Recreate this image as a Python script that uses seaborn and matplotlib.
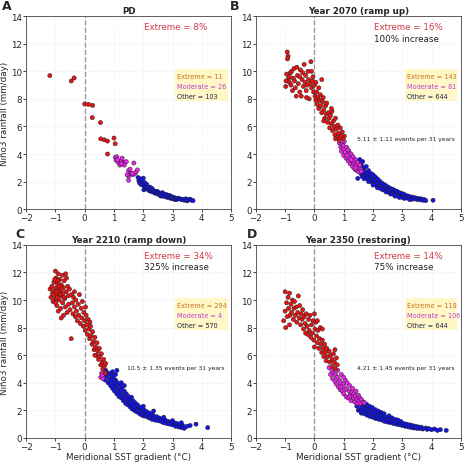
import pandas as pd
import matplotlib
matplotlib.use('Agg')
import matplotlib.pyplot as plt
from matplotlib.patches import Rectangle
import seaborn as sns

sns.set_style('ticks')
plt.rcParams['font.family'] = ['DejaVu Sans']

# ---- data: (SST gradient, Nino3 rainfall) ----
A_EXT = [(-1.19, 9.69), (-0.46, 9.30), (-0.36, 9.52), (0.0, 7.63), (0.13, 7.60), (0.27, 7.53),
         (0.26, 6.64), (0.54, 6.28), (0.55, 5.10), (0.67, 5.03), (0.78, 4.94), (0.78, 4.00),
         (1.00, 5.16), (1.04, 4.75)]
A_MOD = [(1.05, 3.75), (1.07, 3.55), (1.10, 3.80), (1.15, 3.40), (1.20, 3.20), (1.25, 3.50),
         (1.28, 3.70), (1.32, 3.30), (1.38, 3.40), (1.42, 3.45), (1.50, 2.80), (1.50, 2.40),
         (1.50, 2.10), (1.55, 2.60), (1.60, 2.55), (1.65, 2.50), (1.68, 3.35), (1.72, 2.60),
         (1.75, 2.70), (1.55, 2.90), (1.35, 3.20), (1.12, 3.60), (1.25, 3.30), (1.62, 2.60),
         (1.45, 2.50), (1.80, 2.85)]
A_OTH = [(1.82, 2.30), (1.85, 2.05), (1.88, 1.90), (1.90, 2.20), (1.92, 1.80), (1.95, 2.00),
         (1.98, 1.75), (2.00, 2.25), (2.02, 1.40), (2.05, 1.90), (2.05, 1.60), (2.08, 1.70),
         (2.10, 1.55), (2.12, 1.80), (2.15, 1.45), (2.18, 1.50), (2.20, 1.35), (2.22, 1.60),
         (2.25, 1.30), (2.28, 1.40), (2.30, 1.50), (2.32, 1.25), (2.35, 1.35), (2.38, 1.20),
         (2.40, 1.30), (2.42, 1.15), (2.45, 1.25), (2.48, 1.30), (2.50, 1.10), (2.52, 1.20),
         (2.55, 1.05), (2.58, 1.15), (2.60, 1.00), (2.62, 1.10), (2.65, 1.20), (2.68, 0.95),
         (2.70, 1.05), (2.72, 1.10), (2.75, 0.90), (2.78, 1.00), (2.80, 1.05), (2.82, 0.85),
         (2.85, 0.95), (2.88, 0.90), (2.90, 1.00), (2.92, 0.80), (2.95, 0.85), (2.98, 0.90),
         (3.00, 0.75), (3.02, 0.80), (3.05, 0.85), (3.08, 0.70), (3.10, 0.80), (3.12, 0.75),
         (3.15, 0.70), (3.20, 0.80), (3.25, 0.75), (3.30, 0.70), (3.35, 0.72), (3.40, 0.65),
         (3.45, 0.75), (3.50, 0.60), (3.55, 0.70), (3.60, 0.72), (3.65, 0.65), (3.70, 0.62),
         (2.03, 1.95), (1.95, 2.15), (2.25, 1.55), (2.60, 0.95)]

B_EXT = [(-0.95, 9.8), (-0.93, 11.4), (-0.9, 11.1), (-0.92, 10.9), (-0.88, 9.5), (-0.85, 9.2),
         (-0.82, 9.9), (-0.8, 9.0), (-0.78, 10.0), (-0.75, 8.6), (-0.72, 9.5), (-0.7, 10.2),
         (-0.68, 9.3), (-0.65, 8.8), (-0.6, 10.3), (-0.58, 9.7), (-0.55, 9.1), (-0.5, 9.6),
         (-0.48, 10.1), (-0.45, 8.2), (-0.42, 9.4), (-0.4, 9.9), (-0.38, 8.9), (-0.35, 10.5),
         (-0.32, 9.2), (-0.3, 9.7), (-0.28, 8.6), (-0.25, 9.0), (-0.22, 10.0), (-0.2, 9.4),
         (-0.18, 8.0), (-0.15, 9.1), (-0.12, 10.7), (-0.1, 8.8), (-0.08, 9.3), (-0.05, 9.6),
         (-0.03, 8.5), (0.0, 9.0), (0.02, 8.2), (0.05, 9.2), (0.05, 7.9), (0.08, 8.5),
         (0.1, 7.6), (0.12, 8.1), (0.15, 8.8), (0.15, 7.3), (0.18, 7.9), (0.2, 8.3),
         (0.22, 7.5), (0.25, 7.0), (0.28, 7.8), (0.3, 8.1), (0.32, 7.2), (0.35, 6.6),
         (0.38, 7.5), (0.4, 6.9), (0.42, 7.7), (0.45, 6.3), (0.48, 7.0), (0.5, 6.6),
         (0.52, 5.9), (0.55, 6.8), (0.58, 6.2), (0.6, 7.1), (0.62, 5.7), (0.65, 6.4),
         (0.68, 6.0), (0.7, 5.4), (0.72, 6.6), (0.75, 5.8), (0.78, 5.2), (0.8, 6.1),
         (0.82, 5.5), (0.85, 5.0), (0.88, 5.9), (0.9, 5.3), (0.95, 5.6), (0.98, 5.1),
         (-0.98, 8.9), (-0.97, 9.3), (-0.62, 8.2), (-0.27, 8.1), (0.25, 9.4), (-0.1, 10.0),
         (0.32, 6.4), (0.58, 7.3), (0.72, 5.1), (1.02, 5.3), (-0.85, 9.6), (-0.5, 8.5)]
B_MOD = [(0.85, 4.8), (0.9, 4.5), (0.92, 4.2), (0.95, 4.7), (1.0, 4.4), (1.0, 3.9),
         (1.02, 4.9), (1.05, 4.1), (1.08, 3.7), (1.1, 4.5), (1.12, 3.9), (1.15, 3.5),
         (1.18, 4.2), (1.2, 3.7), (1.22, 3.3), (1.25, 4.0), (1.28, 3.5), (1.3, 3.1),
         (1.32, 3.8), (1.35, 3.3), (1.38, 2.9), (1.4, 3.6), (1.42, 3.2), (1.45, 2.8),
         (1.48, 3.4), (1.5, 3.0), (1.52, 2.7), (1.55, 3.2), (1.58, 2.9), (0.98, 4.6),
         (1.15, 4.3), (1.3, 3.5), (1.4, 3.0), (1.25, 3.6), (1.6, 2.75)]
B_OTH = [(1.48, 2.23), (1.5, 3.4), (1.52, 3.0), (1.55, 3.6), (1.57, 2.7), (1.6, 3.2),
         (1.62, 2.9), (1.65, 3.45), (1.67, 2.5), (1.7, 3.0), (1.72, 2.7), (1.75, 2.35),
         (1.77, 3.1), (1.8, 2.6), (1.82, 2.2), (1.85, 2.8), (1.87, 2.45), (1.9, 2.1),
         (1.92, 2.6), (1.95, 2.3), (1.97, 1.95), (2.0, 2.5), (2.02, 2.15), (2.05, 1.85),
         (2.07, 2.35), (2.1, 2.0), (2.12, 1.7), (2.15, 2.2), (2.17, 1.9), (2.2, 1.6),
         (2.22, 2.05), (2.25, 1.75), (2.27, 1.5), (2.3, 1.9), (2.32, 1.65), (2.35, 1.4),
         (2.37, 1.8), (2.4, 1.55), (2.42, 1.35), (2.45, 1.7), (2.47, 1.45), (2.5, 1.25),
         (2.52, 1.6), (2.55, 1.4), (2.57, 1.2), (2.6, 1.5), (2.62, 1.3), (2.65, 1.15),
         (2.67, 1.45), (2.7, 1.25), (2.72, 1.05), (2.75, 1.35), (2.77, 1.15), (2.8, 1.0),
         (2.82, 1.3), (2.85, 1.1), (2.87, 0.95), (2.9, 1.2), (2.92, 1.0), (2.95, 0.9),
         (2.97, 1.15), (3.0, 0.95), (3.02, 0.85), (3.05, 1.1), (3.08, 0.9), (3.1, 0.8),
         (3.12, 1.0), (3.15, 0.85), (3.2, 0.95), (3.22, 0.78), (3.25, 0.9), (3.3, 0.8),
         (3.32, 0.72), (3.35, 0.88), (3.4, 0.75), (3.45, 0.82), (3.5, 0.7), (3.55, 0.78),
         (3.6, 0.68), (3.65, 0.75), (3.7, 0.65), (3.75, 0.7), (3.8, 0.62), (4.05, 0.65),
         (1.6, 2.55), (1.7, 2.2), (1.85, 2.0), (2.0, 1.75), (2.15, 1.55), (2.3, 1.45),
         (2.45, 1.25), (2.6, 1.1), (2.75, 0.95), (2.9, 0.85), (3.05, 0.8), (3.25, 0.7),
         (1.42, 2.85), (1.45, 3.1), (1.55, 3.2), (1.63, 2.35)]

C_EXT = [(-1.18, 10.8), (-1.15, 10.2), (-1.12, 11.0), (-1.1, 10.5), (-1.08, 9.9), (-1.05, 11.3),
         (-1.03, 10.7), (-1.0, 12.1), (-1.0, 10.1), (-0.98, 11.6), (-0.97, 10.9), (-0.95, 9.6),
         (-0.93, 11.2), (-0.92, 10.4), (-0.9, 11.9), (-0.9, 9.2), (-0.88, 10.8), (-0.87, 10.0),
         (-0.85, 11.5), (-0.84, 10.6), (-0.82, 9.4), (-0.8, 11.1), (-0.8, 8.7), (-0.78, 10.3),
         (-0.76, 11.8), (-0.75, 9.8), (-0.73, 10.9), (-0.72, 8.9), (-0.7, 11.4), (-0.68, 10.1),
         (-0.66, 9.5), (-0.65, 11.9), (-0.63, 10.6), (-0.6, 9.1), (-0.58, 11.0), (-0.56, 10.3),
         (-0.55, 9.7), (-0.52, 10.8), (-0.5, 9.3), (-0.46, 7.2), (-0.45, 10.4), (-0.42, 9.8),
         (-0.4, 9.0), (-0.38, 10.2), (-0.35, 9.5), (-0.32, 8.8), (-0.3, 10.0), (-0.28, 9.2),
         (-0.25, 8.5), (-0.22, 9.7), (-0.2, 8.9), (-0.18, 10.4), (-0.15, 8.3), (-0.12, 9.4),
         (-0.1, 8.7), (-0.08, 9.9), (-0.05, 8.1), (-0.03, 9.1), (0.0, 8.5), (0.02, 7.8),
         (0.05, 8.9), (0.07, 8.2), (0.1, 7.5), (0.12, 8.6), (0.15, 7.9), (0.17, 7.2),
         (0.2, 8.1), (0.22, 7.4), (0.25, 6.8), (0.27, 7.7), (0.3, 7.0), (0.32, 6.4),
         (0.35, 7.3), (0.37, 6.6), (0.4, 6.0), (0.42, 6.9), (0.45, 6.3), (0.47, 5.7),
         (0.5, 6.5), (0.52, 5.9), (0.55, 5.3), (0.57, 6.1), (0.6, 5.5), (0.62, 5.0),
         (0.65, 5.7), (0.67, 5.2), (0.7, 4.7), (0.72, 5.4), (-1.02, 11.5), (-0.94, 10.2),
         (-0.86, 11.0), (-0.96, 10.6), (-0.83, 10.4), (-0.91, 11.4), (-0.79, 10.8), (-0.74, 10.5),
         (-1.06, 10.4), (-0.99, 9.8), (-0.62, 11.6), (-0.7, 10.2), (0.03, 9.5), (-0.35, 10.6),
         (0.35, 6.0), (0.18, 8.4)]
C_MOD = [(0.55, 4.4), (0.58, 4.7), (0.62, 4.3), (0.6, 4.55)]
C_OTH = [(0.65, 4.6), (0.7, 4.2), (0.72, 4.9), (0.75, 4.5), (0.8, 4.0), (0.82, 4.7),
         (0.85, 4.3), (0.88, 3.8), (0.9, 4.6), (0.92, 4.1), (0.95, 3.6), (0.97, 4.4),
         (1.0, 3.9), (1.02, 3.4), (1.05, 4.2), (1.07, 3.7), (1.1, 4.9), (1.1, 3.2),
         (1.12, 4.0), (1.15, 3.5), (1.17, 3.0), (1.2, 3.8), (1.22, 3.3), (1.25, 2.9),
         (1.27, 3.6), (1.3, 3.1), (1.32, 2.7), (1.35, 3.4), (1.37, 2.9), (1.4, 2.5),
         (1.42, 3.2), (1.45, 2.8), (1.47, 2.4), (1.5, 3.0), (1.52, 2.6), (1.55, 2.25),
         (1.57, 2.85), (1.6, 2.45), (1.62, 2.1), (1.65, 2.7), (1.67, 2.3), (1.7, 2.0),
         (1.72, 2.55), (1.75, 2.2), (1.77, 1.9), (1.8, 2.4), (1.82, 2.05), (1.85, 1.8),
         (1.87, 2.25), (1.9, 1.95), (1.92, 1.7), (1.95, 2.15), (1.97, 1.85), (2.0, 1.6),
         (2.02, 2.05), (2.05, 1.75), (2.1, 1.55), (2.12, 1.9), (2.15, 1.65), (2.2, 1.45),
         (2.22, 1.8), (2.25, 1.55), (2.3, 1.35), (2.32, 1.7), (2.35, 1.45), (2.4, 1.3),
         (2.45, 1.55), (2.5, 1.25), (2.55, 1.45), (2.6, 1.2), (2.65, 1.35), (2.7, 1.1),
         (2.75, 1.3), (2.8, 1.05), (2.85, 1.2), (2.9, 1.0), (2.95, 1.15), (3.0, 0.95),
         (3.05, 1.1), (3.1, 0.85), (3.15, 1.05), (3.2, 0.8), (3.25, 0.95), (3.3, 0.75),
         (3.35, 0.9), (3.4, 0.7), (3.5, 0.85), (3.6, 0.9), (3.8, 1.0), (4.2, 0.75),
         (1.05, 4.6), (1.25, 4.0), (2.0, 2.3), (2.35, 1.95), (0.95, 4.8), (1.35, 3.8),
         (1.6, 2.95), (2.7, 1.5), (3.0, 1.25), (3.3, 1.1)]

D_EXT = [(-1.05, 8.5), (-1.0, 10.6), (-1.0, 9.2), (-0.98, 8.0), (-0.95, 9.8), (-0.93, 8.8),
         (-0.9, 10.2), (-0.88, 9.4), (-0.85, 10.5), (-0.83, 8.9), (-0.8, 9.7), (-0.78, 9.1),
         (-0.75, 10.0), (-0.72, 8.6), (-0.7, 9.4), (-0.68, 9.9), (-0.65, 8.9), (-0.62, 9.5),
         (-0.6, 8.4), (-0.57, 9.1), (-0.55, 10.3), (-0.52, 8.7), (-0.5, 9.6), (-0.47, 8.2),
         (-0.45, 9.0), (-0.42, 8.6), (-0.4, 9.3), (-0.37, 7.9), (-0.35, 8.8), (-0.32, 8.3),
         (-0.3, 7.6), (-0.28, 9.0), (-0.25, 8.1), (-0.22, 7.5), (-0.2, 8.6), (-0.18, 7.8),
         (-0.15, 8.9), (-0.12, 7.3), (-0.1, 8.2), (-0.08, 7.6), (-0.05, 8.5), (-0.02, 7.1),
         (0.0, 9.0), (0.0, 6.6), (0.02, 7.9), (0.05, 8.4), (0.07, 7.4), (0.1, 6.9),
         (0.12, 7.8), (0.15, 6.5), (0.17, 7.2), (0.2, 8.0), (0.22, 6.8), (0.25, 6.2),
         (0.27, 7.1), (0.3, 6.5), (0.32, 5.9), (0.35, 6.8), (0.37, 6.2), (0.4, 5.6),
         (0.42, 6.5), (0.45, 5.9), (0.5, 6.3), (0.52, 5.5), (0.55, 6.0), (0.6, 5.7),
         (0.62, 5.2), (0.65, 6.1), (0.68, 5.5), (0.7, 6.4), (0.72, 5.0), (0.75, 5.8),
         (0.78, 5.3), (-0.85, 8.2), (0.27, 7.9), (0.1, 8.5)]
D_MOD = [(0.5, 5.1), (0.55, 4.6), (0.6, 4.9), (0.62, 4.3), (0.65, 4.7), (0.7, 4.1),
         (0.72, 4.6), (0.75, 3.9), (0.78, 4.4), (0.8, 4.9), (0.82, 3.7), (0.85, 4.2),
         (0.88, 3.5), (0.9, 4.0), (0.92, 4.6), (0.95, 3.4), (0.98, 3.9), (1.0, 3.2),
         (1.02, 3.7), (1.05, 4.2), (1.08, 3.0), (1.1, 3.5), (1.12, 4.0), (1.15, 2.9),
         (1.18, 3.4), (1.2, 3.8), (1.22, 3.1), (1.25, 2.7), (1.28, 3.3), (1.3, 3.6),
         (1.32, 2.9), (1.35, 3.2), (1.38, 2.6), (1.4, 3.0), (1.42, 3.4), (1.45, 2.8),
         (1.48, 2.5), (1.5, 3.1), (1.52, 2.7), (1.55, 2.9), (1.58, 2.5), (1.6, 2.8),
         (1.65, 2.6), (1.7, 2.55), (1.0, 4.4), (1.2, 3.0), (0.9, 3.7)]
D_OTH = [(1.45, 2.3), (1.5, 2.0), (1.55, 2.5), (1.58, 2.1), (1.6, 1.8), (1.63, 2.35),
         (1.65, 2.0), (1.68, 2.6), (1.7, 1.75), (1.72, 2.2), (1.75, 1.9), (1.78, 2.45),
         (1.8, 1.65), (1.82, 2.1), (1.85, 1.8), (1.88, 2.3), (1.9, 1.55), (1.92, 2.0),
         (1.95, 1.7), (1.98, 2.2), (2.0, 1.5), (2.02, 1.9), (2.05, 1.6), (2.08, 2.05),
         (2.1, 1.4), (2.12, 1.8), (2.15, 1.5), (2.18, 1.95), (2.2, 1.35), (2.22, 1.7),
         (2.25, 1.45), (2.28, 1.85), (2.3, 1.3), (2.32, 1.6), (2.35, 1.4), (2.38, 1.75),
         (2.4, 1.2), (2.45, 1.5), (2.5, 1.15), (2.52, 1.35), (2.55, 1.6), (2.6, 1.1),
         (2.62, 1.3), (2.65, 1.45), (2.7, 1.05), (2.72, 1.25), (2.75, 1.35), (2.8, 1.0),
         (2.82, 1.15), (2.85, 1.3), (2.9, 0.95), (2.92, 1.1), (2.95, 1.2), (3.0, 0.9),
         (3.05, 1.05), (3.1, 0.85), (3.15, 1.0), (3.2, 0.8), (3.25, 0.95), (3.3, 0.75),
         (3.35, 0.9), (3.4, 0.72), (3.45, 0.85), (3.5, 0.7), (3.55, 0.8), (3.6, 0.68),
         (3.65, 0.78), (3.7, 0.65), (3.8, 0.72), (3.85, 0.62), (3.9, 0.68), (4.0, 0.6),
         (4.1, 0.65), (4.2, 0.55), (4.3, 0.6), (4.5, 0.55), (2.0, 1.75), (2.25, 1.6),
         (2.5, 1.3), (2.75, 1.15), (3.0, 1.0), (3.2, 0.9), (3.5, 0.78), (1.75, 2.05),
         (1.6, 2.2)]

PANEL_LABELS = ['A', 'B', 'C', 'D']
TITLES = ['PD', 'Year 2070 (ramp up)', 'Year 2210 (ramp down)', 'Year 2350 (restoring)']
EXTREME_PCT = ['Extreme = 8%', 'Extreme = 16%', 'Extreme = 34%', 'Extreme = 14%']
INCREASE = [None, '100% increase', '325% increase', '75% increase']
COUNTS = [(11, 26, 103), (143, 81, 644), (294, 4, 570), (118, 106, 644)]
EVENTS = [None, '5.11 \u00b1 1.11 events per 31 years',
          '10.5 \u00b1 1.35 events per 31 years', '4.21 \u00b1 1.45 events per 31 years']
PANEL_DATA = [(A_EXT, A_MOD, A_OTH), (B_EXT, B_MOD, B_OTH),
              (C_EXT, C_MOD, C_OTH), (D_EXT, D_MOD, D_OTH)]

PALETTE = {'Extreme': '#ee1111', 'Moderate': '#ee22ee', 'Other': '#1111ee'}
CNT_COLORS = ['#c87020', '#c040d0', '#202050']

POS = [[0.056, 0.547, 0.440, 0.416], [0.549, 0.547, 0.440, 0.416],
       [0.056, 0.054, 0.440, 0.416], [0.549, 0.054, 0.440, 0.416]]
LBL_POS = [(0.004, 1.0), (0.494, 1.0), (0.032, 0.508), (0.530, 0.508)]
FS = 6.3

fig = plt.figure(figsize=(4.66, 4.64), dpi=100)

for i in range(4):
    ext, mod, oth = PANEL_DATA[i]
    rows = [(x, y, 'Other') for x, y in oth] + \
           [(x, y, 'Moderate') for x, y in mod] + \
           [(x, y, 'Extreme') for x, y in ext]
    df = pd.DataFrame(rows, columns=['grad', 'rain', 'cat'])

    ax = fig.add_axes(POS[i])
    ax.grid(color='#dddddd', linewidth=0.4, linestyle=':')
    ax.axvline(0, color='#999999', linewidth=1.0, linestyle='--', zorder=1)
    sns.scatterplot(data=df, x='grad', y='rain', hue='cat', palette=PALETTE,
                    s=9, edgecolor='#222222', linewidth=0.35, legend=False, ax=ax, zorder=3)

    ax.set_xlim(-2, 5)
    ax.set_ylim(0, 14)
    ax.set_xticks(range(-2, 6))
    ax.set_yticks(range(0, 15, 2))
    ax.tick_params(labelsize=FS, length=2, width=0.6, pad=1)
    for sp in ax.spines.values():
        sp.set_linewidth(0.6)
        sp.set_color('#444444')

    ax.set_title(TITLES[i], fontsize=FS, fontweight='bold', pad=2)
    ax.set_xlabel('Meridional SST gradient (\u00b0C)' if i >= 2 else '', fontsize=FS, labelpad=0.5)
    ax.set_ylabel('Ni\u00f1o3 rainfall (mm/day)' if i % 2 == 0 else '', fontsize=FS, labelpad=1)

    ax.text(2.02, 13.25, EXTREME_PCT[i], color='#d2384a', fontsize=FS, va='center')
    if INCREASE[i]:
        ax.text(2.02, 12.4, INCREASE[i], color='#222222', fontsize=FS, va='center')

    # yellow count box
    ax.add_patch(Rectangle((3.08, 7.85), 1.8, 2.3, facecolor='#fff8c0',
                           edgecolor='none', alpha=0.9, zorder=2))
    names = ['Extreme', 'Moderate', 'Other']
    for k in range(3):
        ax.text(3.15, 9.65 - k * 0.72, f'{names[k]} = {COUNTS[i][k]}',
                color=CNT_COLORS[k], fontsize=4.7, va='center', zorder=4)
    if EVENTS[i]:
        ax.text(1.45, 5.1, EVENTS[i], color='#222222', fontsize=4.3, va='center', zorder=4)

    fig.text(LBL_POS[i][0], LBL_POS[i][1], PANEL_LABELS[i], fontsize=9,
             fontweight='bold', va='top', ha='left')

fig.savefig('out.png', dpi=100)
plt.close(fig)
